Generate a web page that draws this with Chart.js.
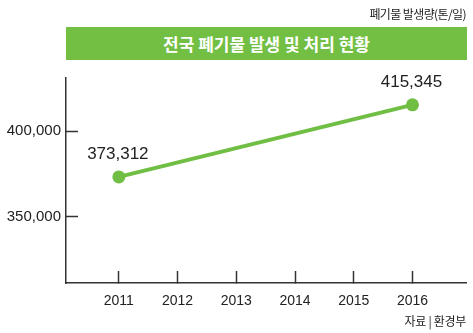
<!DOCTYPE html>
<html>
<head>
<meta charset="utf-8">
<script src="https://cdn.jsdelivr.net/npm/chart.js@4"></script>
<style>
  body { margin: 0; background: #fff; }
  #wrap { position: relative; width: 473px; height: 333px; font-family: "Noto Sans CJK KR", sans-serif; color: #222; }
  #unit { position: absolute; right: 7px; top: 5px; font-size: 12px; letter-spacing: -0.6px; }
  #title { position: absolute; left: 66px; top: 27px; width: 401px; height: 33px; line-height: 33px;
           background: #72bf44; color: #fff; font-size: 17px; font-weight: bold; text-align: center; }
  #src { position: absolute; right: 7px; top: 312px; font-size: 12px; letter-spacing: -0.3px; }
  canvas { position: absolute; left: 0; top: 0; }
</style>
</head>
<body>
<div id="wrap">
  <canvas id="grafico" width="473" height="333"></canvas>
  <div id="unit">폐기물 발생량(톤/일)</div>
  <div id="title">전국 폐기물 발생 및 처리 현황</div>
  <div id="src">자료 | 환경부</div>
</div>
<script>
const years = [2011, 2012, 2013, 2014, 2015, 2016];
const amounts = [373312, null, null, null, null, 415345];
const yTicks = [350000, 400000];

const verde = '#70be44';
const fonte = '"Liberation Sans", Arial, sans-serif';

// rótulos de valor acima dos pontos
const rotulos = {
  id: 'rotulos',
  afterDatasetsDraw(chart) {
    const ctx = chart.ctx;
    const meta = chart.getDatasetMeta(0);
    ctx.save();
    ctx.font = '17px ' + fonte;
    ctx.fillStyle = '#222';
    ctx.textAlign = 'center';
    ctx.textBaseline = 'middle';
    meta.data.forEach((pt, i) => {
      if (amounts[i] == null) return;
      ctx.fillText(amounts[i].toLocaleString('en-US'), pt.x - 1, pt.y - 23);
    });
    ctx.restore();
  }
};

new Chart(document.getElementById('grafico'), {
  type: 'line',
  data: {
    datasets: [{
      data: years.map((x, i) => ({ x: x, y: amounts[i] })),
      borderColor: verde,
      borderWidth: 4,
      pointRadius: 6.5,
      pointBackgroundColor: verde,
      pointBorderWidth: 0,
      spanGaps: true,
      tension: 0
    }]
  },
  options: {
    responsive: false,
    animation: false,
    layout: { padding: { top: 78, right: 6, bottom: 0, left: 0 } },
    plugins: { legend: { display: false }, tooltip: { enabled: false } },
    scales: {
      x: {
        type: 'linear',
        min: 2010.1,
        max: 2016.92,
        afterBuildTicks: s => { s.ticks = years.map(v => ({ value: v })); },
        afterFit: s => { s.height = 50; },
        grid: { drawOnChartArea: false, tickLength: -12, tickWidth: 1.5, tickColor: '#333' },
        border: { color: '#333', width: 1.5 },
        ticks: { callback: v => String(v), padding: 22, font: { family: fonte, size: 14 }, color: '#222', maxRotation: 0 }
      },
      y: {
        min: 311400,
        max: 431000,
        afterBuildTicks: s => { s.ticks = yTicks.map(v => ({ value: v })); },
        afterFit: s => { s.width = 66; },
        grid: { drawOnChartArea: false, tickLength: -12, tickWidth: 1.5, tickColor: '#333' },
        border: { color: '#333', width: 1.5 },
        ticks: { callback: v => v.toLocaleString('en-US'), padding: 17, font: { family: fonte, size: 15 }, color: '#222' }
      }
    }
  },
  plugins: [rotulos]
});
</script>
</body>
</html>
